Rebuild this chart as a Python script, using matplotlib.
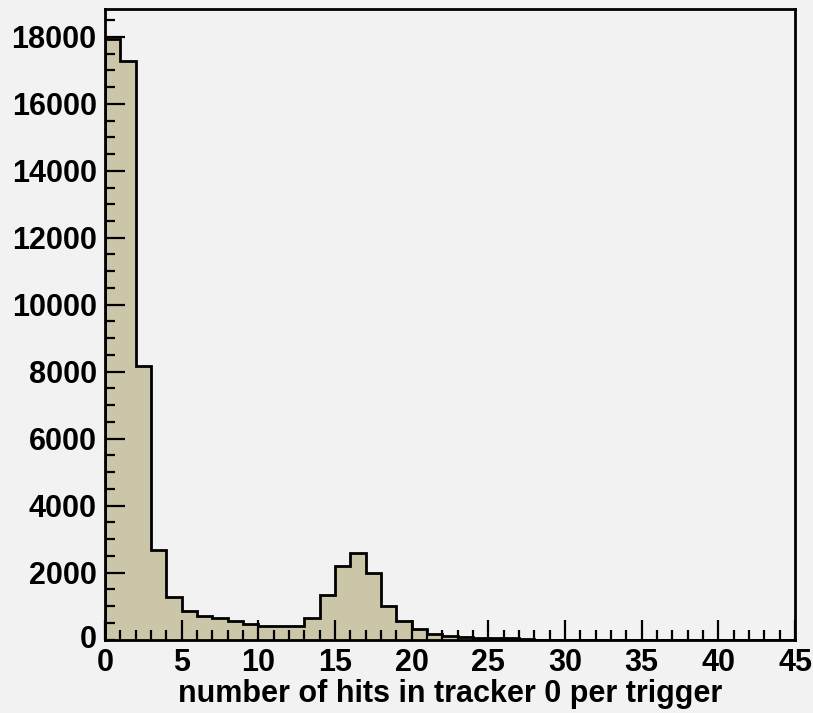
import numpy as np
import matplotlib
matplotlib.use("Agg")
import matplotlib.pyplot as plt
from matplotlib.ticker import MultipleLocator

# Hit multiplicity per trigger, one bin per integer hit count (0..44)
bin_edges = np.arange(0, 46, 1)
counts = [
    17950, 17280, 8170, 2665, 1257, 860, 709, 631, 542, 462,
    402, 402, 402, 640, 1334, 2198, 2597, 1989, 1007, 560,
    322, 160, 90, 70, 55, 45, 35, 25, 0, 0,
    0, 0, 0, 0, 0, 0, 0, 0, 0, 0,
    0, 0, 0, 0, 0,
]
x_ticks = list(range(0, 46, 5))
y_ticks = list(range(2000, 18001, 2000))
x_label = "number of hits in tracker 0 per trigger"

bg = "#f2f2f2"
fill = "#ccc6a9"
fs = 22

plt.rcParams["font.family"] = ["Liberation Sans", "DejaVu Sans"]
plt.rcParams["font.weight"] = "bold"

fig = plt.figure(figsize=(8.13, 7.13), dpi=100, facecolor=bg)
ax = fig.add_axes([105 / 813, 1 - 639.5 / 713, 690 / 813, (639.5 - 8.5) / 713])
ax.set_facecolor(bg)

ax.stairs(counts, bin_edges, fill=True, facecolor=fill, edgecolor="none")
ax.stairs(counts, bin_edges, color="black", linewidth=2.0, baseline=0)

ax.set_xlim(0, 45)
ax.set_ylim(0, 1.05 * max(counts))

ax.set_xticks(x_ticks)
ax.set_xticklabels([str(v) for v in x_ticks], fontweight="bold")
ax.set_yticks(y_ticks)
ax.set_yticklabels([str(v) for v in y_ticks], fontweight="bold")
ax.xaxis.set_minor_locator(MultipleLocator(1))
ax.yaxis.set_minor_locator(MultipleLocator(500))

for s in ax.spines.values():
    s.set_linewidth(2.0)
    s.set_zorder(5)

ax.tick_params(which="both", direction="in", width=1.6, top=False, right=False,
               labelsize=fs, colors="black")
ax.tick_params(which="major", length=14.5)
ax.tick_params(axis="y", which="major", pad=6)
ax.tick_params(axis="x", which="major", pad=6)
ax.tick_params(which="minor", length=7)

# origin label of the y axis, drawn apart from the x tick labels as ROOT does
ax.text(-0.012, 0.0, "0", transform=ax.transAxes, ha="right", va="center",
        fontsize=fs, fontweight="bold")

ax.set_xlabel(x_label, fontsize=fs, fontweight="bold", labelpad=1)

fig.savefig("out.png", dpi=100, facecolor=bg)
